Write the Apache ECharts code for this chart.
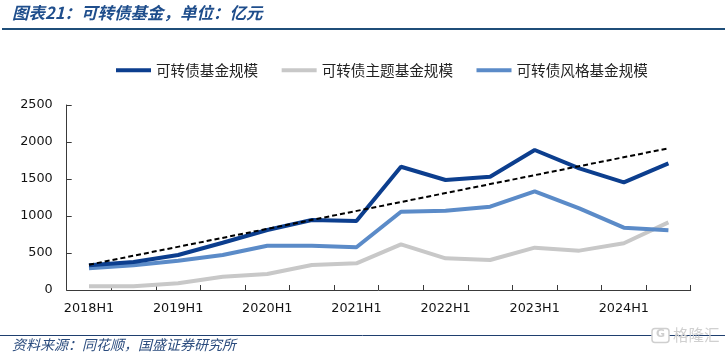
<!DOCTYPE html>
<html>
<head>
<meta charset="utf-8">
<script src="https://cdn.jsdelivr.net/npm/echarts@6/dist/echarts.min.js"></script>
<style>
html,body{margin:0;padding:0;background:#fff;}
#chart{width:725px;height:356px;}
</style>
</head>
<body>
<div id="chart"></div>
<script>
const categories = ['2018H1','2018H2','2019H1','2019H2','2020H1','2020H2','2021H1','2021H2','2022H1','2022H2','2023H1','2023H2','2024H1','2024H2'];
const cbFund = [334,378,473,639,811,946,932,1666,1486,1531,1892,1644,1455,1712];
const themeFund = [50,52,90,180,216,338,360,617,428,405,572,532,631,914];
const styleFund = [293,334,396,473,599,599,577,1058,1072,1126,1333,1104,842,806];
const trendEnds = [342,1915];
const yTicks = [0,500,1000,1500,2000,2500];

const names = ['可转债基金规模','可转债主题基金规模','可转债风格基金规模'];
const colors = ['#0C3E8E','#C8C8C8','#5B8BC8'];

const chart = echarts.init(document.getElementById('chart'));
chart.setOption({
  animation:false,
  backgroundColor:'#fff',
  textStyle:{fontFamily:'DejaVu Sans'},
  grid:{left:66.7,right:34.3,top:105,bottom:66,containLabel:false},
  legend:{
    data:names,
    left:111,
    top:58,
    icon:'rect',
    itemWidth:35,
    itemHeight:4,
    itemGap:23.5,
    textStyle:{fontFamily:'Noto Sans CJK SC',fontSize:14.6,color:'#222'}
  },
  xAxis:{
    type:'category',
    data:categories,
    boundaryGap:true,
    axisLine:{lineStyle:{color:'#3a3a3a',width:1}},
    axisTick:{show:true,inside:true,length:5,interval:0,alignWithLabel:false,lineStyle:{color:'#3a3a3a'}},
    axisLabel:{interval:1,margin:12,fontSize:12.8,color:'#111',fontFamily:'DejaVu Sans'},
    splitLine:{show:false}
  },
  yAxis:{
    type:'value',
    min:yTicks[0],
    max:yTicks[yTicks.length-1],
    interval:500,
    axisLine:{show:true,lineStyle:{color:'#3a3a3a',width:1}},
    axisTick:{show:true,inside:true,length:5,lineStyle:{color:'#3a3a3a'}},
    axisLabel:{margin:14,fontSize:12.8,color:'#111',fontFamily:'DejaVu Sans',formatter:function(v){return String(v);}},
    splitLine:{show:false}
  },
  series:[
    {name:names[1],type:'line',data:themeFund,symbol:'none',lineStyle:{width:4,color:colors[1]},itemStyle:{color:colors[1]},z:2},
    {name:names[2],type:'line',data:styleFund,symbol:'none',lineStyle:{width:4,color:colors[2]},itemStyle:{color:colors[2]},z:3},
    {name:names[0],type:'line',data:cbFund,symbol:'none',lineStyle:{width:4,color:colors[0]},itemStyle:{color:colors[0]},z:4},
    {name:'趋势线',type:'line',data:[[0,trendEnds[0]],[categories.length-1,trendEnds[1]]],symbol:'none',
     lineStyle:{width:2,color:'#000',type:[5,3]},z:5,silent:true}
  ],
  graphic:[
    {type:'text',left:12,top:4,style:{text:'图表21：可转债基金，单位：亿元',fontFamily:'Noto Sans CJK SC',fontSize:16.5,fontWeight:'bold',fontStyle:'italic',fill:'#1F4E8C'}},
    {type:'line',shape:{x1:2,y1:29,x2:725,y2:29},style:{stroke:'#1F4E79',lineWidth:2}},
    {type:'line',shape:{x1:0,y1:335.5,x2:725,y2:335.5},style:{stroke:'#1F3F6F',lineWidth:1}},
    {type:'text',left:12,top:338,style:{text:'资料来源：同花顺，国盛证券研究所',fontFamily:'Noto Sans CJK SC',fontSize:14,fontStyle:'italic',fill:'#2B4C7E'}},
    {type:'rect',shape:{x:652,y:328.5,width:17,height:14,r:3},style:{fill:'#fff',stroke:'#cfcfcf',lineWidth:1.5}},
    {type:'text',x:656,y:329,style:{text:'G',fontFamily:'DejaVu Sans',fontSize:11,fontWeight:'bold',fill:'#cfcfcf'}},
    {type:'text',x:673,y:327,style:{text:'格隆汇',fontFamily:'Noto Sans CJK SC',fontSize:15.5,fill:'#d0d0d0'}}
  ]
});
</script>
</body>
</html>
